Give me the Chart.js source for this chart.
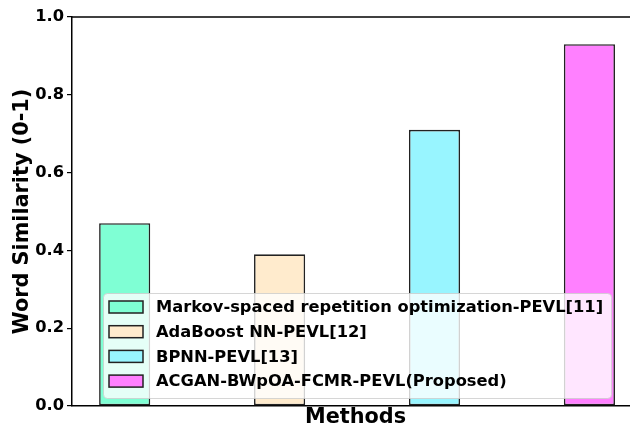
<!DOCTYPE html>
<html>
<head>
<meta charset="utf-8">
<script src="https://cdn.jsdelivr.net/npm/chart.js@4.4.1/dist/chart.umd.min.js"></script>
<style>
  html, body { margin: 0; padding: 0; background: #fff; overflow: hidden; }
  #wrap { width: 650px; height: 428px; }
</style>
</head>
<body>
<div id="wrap"><canvas id="myChart" width="650" height="428"></canvas></div>
<script>
const methods = [
  "Markov-spaced repetition optimization-PEVL[11]",
  "AdaBoost NN-PEVL[12]",
  "BPNN-PEVL[13]",
  "ACGAN-BWpOA-FCMR-PEVL(Proposed)",
];
const similarity = [0.47, 0.39, 0.71, 0.93];
const barColors = ["#7fffd4", "#ffebcd", "#98f5ff", "#ff80ff"];
const yTicks = [0.0, 0.2, 0.4, 0.6, 0.8, 1.0];

const FONT = "'DejaVu Sans', sans-serif";

// top spine + legend box inside the plot (matplotlib style)
const boxPlugin = {
  id: "boxPlugin",
  afterDatasetsDraw(chart) {
    const { ctx, chartArea } = chart;
    ctx.save();
    ctx.strokeStyle = "#000";
    ctx.lineWidth = 1.5;
    ctx.beginPath();
    ctx.moveTo(chartArea.left, chartArea.top);
    ctx.lineTo(chartArea.right + 5, chartArea.top);
    ctx.stroke();

    ctx.font = "bold 16.3px " + FONT;
    let maxW = 0;
    methods.forEach((m) => { maxW = Math.max(maxW, ctx.measureText(m).width); });
    const x0 = chartArea.left + 31;
    const w = 53 + maxW + 8;
    const h = 105;
    const y0 = chartArea.bottom - 8 - h;
    ctx.fillStyle = "rgba(255,255,255,0.8)";
    ctx.strokeStyle = "rgba(204,204,204,0.8)";
    ctx.lineWidth = 1;
    ctx.beginPath();
    ctx.roundRect(x0 + 0.5, y0 + 0.5, w, h, 4);
    ctx.fill();
    ctx.stroke();

    ctx.textBaseline = "middle";
    methods.forEach((m, i) => {
      const cy = y0 + 14 + i * 24.7;
      ctx.fillStyle = barColors[i];
      ctx.fillRect(x0 + 6, cy - 6, 34, 12);
      ctx.strokeStyle = "#222";
      ctx.lineWidth = 1.5;
      ctx.strokeRect(x0 + 6, cy - 6, 34, 12);
      ctx.fillStyle = "#000";
      ctx.fillText(m, x0 + 53, cy + 1);
    });
    ctx.restore();
  },
};

const ctx = document.getElementById("myChart").getContext("2d");
const myChart = new Chart(ctx, {
  type: "bar",
  data: {
    labels: methods,
    datasets: [
      {
        data: similarity.map((v, i) => ({ x: i, y: v })),
        backgroundColor: barColors,
        borderColor: "#222",
        borderWidth: 1.6,
        borderSkipped: false,
        categoryPercentage: 1,
        barPercentage: 0.33,
      },
    ],
  },
  options: {
    responsive: false,
    animation: false,
    layout: { padding: { top: 17, right: 11, left: 0, bottom: 0 } },
    plugins: {
      legend: { display: false },
      tooltip: { enabled: false },
    },
    scales: {
      x: {
        type: "linear",
        min: -0.34,
        max: 3.32,
        offset: false,
        afterBuildTicks(scale) { scale.ticks = methods.map((m, i) => ({ value: i })); },
        ticks: { display: false },
        grid: { display: false, offset: false },
        border: { color: "#000", width: 1.5 },
        title: {
          display: true,
          text: "Methods",
          color: "#000",
          font: { family: FONT, size: 20.8, weight: "bold", lineHeight: 1 },
          padding: { top: 0, bottom: 0 },
        },
        afterFit(scale) { scale.height = 22; },
      },
      y: {
        min: 0,
        max: 1,
        afterBuildTicks(scale) { scale.ticks = yTicks.map((v) => ({ value: v })); },
        ticks: {
          color: "#000",
          padding: 3,
          font: { family: FONT, size: 16.3, weight: "bold" },
          callback: (v) => Number(v).toFixed(1),
        },
        grid: {
          drawOnChartArea: false,
          drawTicks: true,
          tickLength: 5,
          color: "#000",
          lineWidth: 1.2,
        },
        border: { color: "#000", width: 1.5 },
        title: {
          display: true,
          text: "Word Similarity (0-1)",
          color: "#000",
          font: { family: FONT, size: 20.8, weight: "bold", lineHeight: 1 },
          padding: { top: 12, bottom: 0 },
        },
        afterFit(scale) { scale.width = 72; },
      },
    },
  },
  plugins: [boxPlugin],
});
</script>
</body>
</html>
